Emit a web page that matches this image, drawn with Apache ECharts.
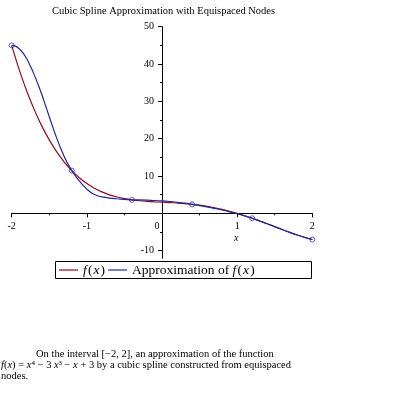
<!DOCTYPE html>
<html><head><meta charset="utf-8">
<script src="https://cdn.jsdelivr.net/npm/echarts@6/dist/echarts.min.js"></script>
<style>html,body{margin:0;padding:0;background:#fff}#c{width:395px;height:395px}</style>
</head><body><div id="c"></div>
<script>
// f(x) samples (red)
const redX = [-2,-1.95,-1.9,-1.85,-1.8,-1.75,-1.7,-1.65,-1.6,-1.55,-1.5,-1.45,-1.4,-1.35,-1.3,-1.25,-1.2,-1.1,-1,-0.9,-0.8,-0.7,-0.6,-0.5,-0.4,-0.3,-0.2,-0.1,0,0.1,0.2,0.3,0.4,0.5,0.6,0.7,0.8,0.9,1,1.1,1.2,1.3,1.4,1.5,1.6,1.7,1.8,1.9,2];
const redY = [45,41.65,38.51,35.56,32.79,30.21,27.79,25.54,23.44,21.49,19.69,18.02,16.47,15.05,13.75,12.55,11.46,9.56,8,6.74,5.75,4.97,4.38,3.94,3.62,3.39,3.23,3.10,3,2.90,2.78,2.63,2.43,2.19,1.88,1.51,1.07,0.57,0,-0.63,-1.31,-2.04,-2.79,-3.56,-4.33,-5.09,-5.80,-6.45,-7];
// spline approximation samples (blue)
const blueX = [-2,-1.95,-1.9,-1.85,-1.8,-1.75,-1.7,-1.65,-1.6,-1.55,-1.5,-1.45,-1.4,-1.35,-1.3,-1.25,-1.2,-1.15,-1.1,-1.05,-1,-0.95,-0.9,-0.85,-0.8,-0.7,-0.6,-0.5,-0.4,-0.3,-0.2,-0.1,0,0.1,0.2,0.3,0.4,0.5,0.6,0.7,0.8,0.9,1,1.1,1.2,1.3,1.4,1.5,1.6,1.7,1.8,1.9,2];
const blueY = [45,44.8,44.1,43.0,41.4,39.4,37.1,34.6,31.9,28.9,25.9,22.9,20.1,17.5,15.2,13.2,11.46,10.0,8.7,7.5,6.5,5.65,5.05,4.65,4.4,4.1,3.92,3.77,3.62,3.6,3.55,3.46,3.34,3.18,2.98,2.74,2.43,2.1,1.74,1.33,0.9,0.42,-0.1,-0.68,-1.31,-2.03,-2.77,-3.54,-4.33,-5.09,-5.80,-6.44,-7];
// equispaced nodes
const nodeX = [-2,-1.2,-0.4,0.4,1.2,2];
const nodeY = [45,11.47,3.62,2.43,-1.31,-7];
// axis ticks
const xTickValues = [-2,-1,0,1,2];
const yLabelValues = [-10,10,20,30,40,50];
const yTickValues = [-10,0,10,20,30,40,50];

const serif = '"Liberation Serif", "DejaVu Serif", serif';
const RED = '#920b1b', BLUE = '#1b28a0';
const pairs = (xs, ys) => xs.map((x, i) => [x, ys[i]]);
const chart = echarts.init(document.getElementById('c'), null, {renderer: 'canvas'});

const X_MIN = -2, X_MAX = 2, Y_MIN = -12, Y_MAX = 50;
const G = {left: 11.7, top: 26.7, width: 300.6, height: 231.5};
// put the axes through the origin
const yAxisOffset = -G.width * (0 - X_MIN) / (X_MAX - X_MIN);
const xAxisOffset = -G.height * (0 - Y_MIN) / (Y_MAX - Y_MIN);
const HS = '\u200A';

const option = {
  animation: false,
  backgroundColor: '#fff',
  title: {
    text: 'Cubic Spline Approximation with Equispaced Nodes',
    left: 52, top: 6, padding: 0,
    textStyle: {fontFamily: serif, fontSize: 10.5, fontWeight: 'normal', color: '#000'}
  },
  grid: Object.assign({containLabel: false, outerBoundsMode: 'none'}, G),
  xAxis: {
    type: 'value', min: X_MIN, max: X_MAX, interval: 1,
    position: 'bottom', offset: xAxisOffset,
    axisLine: {onZero: false, lineStyle: {color: '#000', width: 1}},
    axisTick: {length: 4, lineStyle: {color: '#000'}},
    minorTick: {show: true, splitNumber: 2, length: 2, lineStyle: {color: '#000'}},
    splitLine: {show: false},
    axisLabel: {
      customValues: xTickValues,
      margin: 8, color: '#000', fontFamily: serif, fontSize: 10,
      formatter: v => v === 0 ? '{z|0}' : String(v),
      rich: {z: {padding: [0, 10, 0, 0], fontFamily: serif, fontSize: 10, color: '#000'}}
    }
  },
  yAxis: {
    type: 'value', min: Y_MIN, max: Y_MAX, splitNumber: 6,
    position: 'left', offset: yAxisOffset,
    axisLine: {onZero: false, lineStyle: {color: '#000', width: 1}},
    axisTick: {customValues: yTickValues, length: 4, lineStyle: {color: '#000'}},
    minorTick: {show: true, splitNumber: 2, length: 2, lineStyle: {color: '#000'}},
    splitLine: {show: false},
    axisLabel: {customValues: yLabelValues, margin: 8, color: '#000', fontFamily: serif, fontSize: 10}
  },
  legend: {
    left: 59, top: 263, padding: 0, itemGap: 3, itemWidth: 19, itemHeight: 1.2, icon: 'rect',
    data: ['f(x)', 'Approximation of f(x)'],
    formatter: n => (n === 'f(x)' ? '' : 'Approximation of ') + '{i|f}' + HS + '(' + HS + '{i|x}' + HS + ')',
    textStyle: {fontFamily: serif, fontSize: 13.5, color: '#000',
      rich: {i: {fontStyle: 'italic', fontFamily: serif, fontSize: 13.5, color: '#000'}}}
  },
  series: [
    {name: 'f(x)', type: 'line', data: pairs(redX, redY), symbol: 'none', smooth: 0.4,
     lineStyle: {color: RED, width: 1.2}, itemStyle: {color: RED}, z: 2},
    {name: 'Approximation of f(x)', type: 'line', data: pairs(blueX, blueY), symbol: 'none', smooth: 0.4,
     lineStyle: {color: BLUE, width: 1.2}, itemStyle: {color: BLUE}, z: 3},
    {name: 'nodes', type: 'scatter', data: pairs(nodeX, nodeY), symbol: 'circle', symbolSize: 5,
     itemStyle: {color: 'rgba(255,255,255,0)', borderColor: BLUE, borderWidth: 0.9}, z: 4}
  ],
  graphic: [
    {type: 'rect', shape: {x: 55.5, y: 261.5, width: 256, height: 17},
     style: {fill: null, stroke: '#000', lineWidth: 1}, z: 10},
    {type: 'text', left: 234, top: 233,
     style: {text: 'x', font: 'italic 10px ' + serif, fill: '#000'}},
    {type: 'text', left: 36, top: 349,
     style: {text: 'On the interval [\u22122, 2], an approximation of the function', font: '10.5px ' + serif, fill: '#000'}},
    {type: 'text', left: 1, top: 360,
     style: {text: '{i|f}({i|x}) = {i|x}\u2074 \u2212 3 {i|x}\u00b3 \u2212 {i|x} + 3 by a cubic spline constructed from equispaced',
       font: '10.5px ' + serif, fill: '#000',
       rich: {i: {fontStyle: 'italic', fontFamily: serif, fontSize: 10.5, fill: '#000'}}}},
    {type: 'text', left: 1, top: 371,
     style: {text: 'nodes.', font: '10.5px ' + serif, fill: '#000'}}
  ]
};
chart.setOption(option);
</script>
</body></html>
